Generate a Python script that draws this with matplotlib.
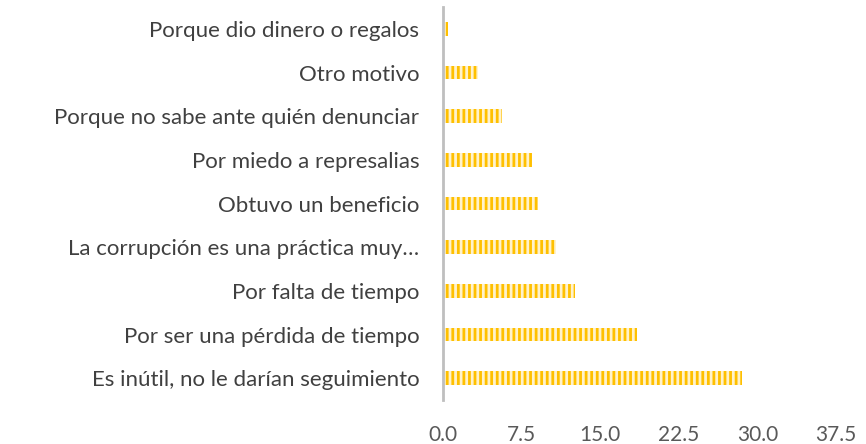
import matplotlib.pyplot as plt

plt.rcParams['font.family'] = ['Lato', 'DejaVu Sans']
plt.rcParams['hatch.linewidth'] = 2.0

categories = [
    'Es inútil, no le darían seguimiento',
    'Por ser una pérdida de tiempo',
    'Por falta de tiempo',
    'La corrupción es una práctica muy…',
    'Obtuvo un beneficio',
    'Por miedo a represalias',
    'Porque no sabe ante quién denunciar',
    'Otro motivo',
    'Porque dio dinero o regalos',
]
values = [28.5, 18.5, 12.6, 10.8, 9.1, 8.5, 5.6, 3.3, 0.5]
ticks = [0, 7.5, 15, 22.5, 30, 37.5]
tick_labels = ['0.0', '7.5', '15.0', '22.5', '30.0', '37.5']

fig = plt.figure(figsize=(8.66, 4.44), dpi=100)
ax = fig.add_axes([443 / 866, 44 / 444, 393 / 866, 393 / 444])

ax.barh(range(len(categories)), values, height=0.32, color='#FFF2CC',
        edgecolor='#FFC000', hatch='|||', linewidth=0)

ax.set_xlim(0, 37.5)
ax.set_ylim(-0.5, len(categories) - 0.5)
ax.set_yticks(range(len(categories)))
ax.set_yticklabels(categories, fontsize=16, color='#404040')
ax.set_xticks(ticks)
ax.set_xticklabels(tick_labels, fontsize=15, color='#595959')
ax.tick_params(axis='y', length=0, pad=17)
ax.tick_params(axis='x', length=0, pad=18)

for s in ['top', 'right', 'bottom']:
    ax.spines[s].set_visible(False)
ax.spines['left'].set_color('#BFBFBF')
ax.spines['left'].set_linewidth(2.0)

fig.savefig('out.png', dpi=100)
